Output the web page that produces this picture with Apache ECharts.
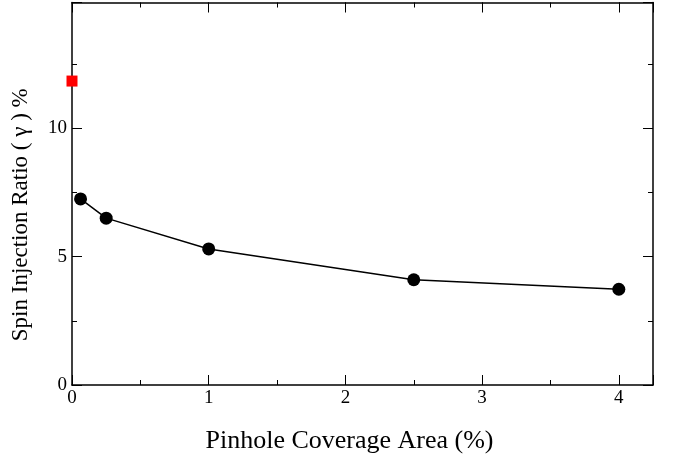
<!DOCTYPE html>
<html>
<head>
<meta charset="utf-8">
<script src="https://cdn.jsdelivr.net/npm/echarts@6/dist/echarts.min.js"></script>
<style>html,body{margin:0;padding:0;background:#fff;}#c{width:683px;height:460px;}</style>
</head>
<body>
<div id="c"></div>
<script>
const coverage = [0.0625, 0.25, 1, 2.5, 4];
const ratio = [7.25, 6.5, 5.3, 4.1, 3.73];
const refCoverage = [0];
const refRatio = [11.84];
const xTitle = 'Pinhole Coverage Area (%)';
const yTitle = 'Spin Injection Ratio ( \u03b3 ) %';

const font = 'Liberation Serif';
const grid = {left: 72, right: 30, top: 2.5, bottom: 75};
const lineStyle = {color: '#000', width: 1.5};
const intFmt = v => (Math.abs(v - Math.round(v)) < 1e-9 ? String(Math.round(v)) : '');

function xAx(gi, pos, interval, len, labels) {
  return {
    type: 'value', gridIndex: gi, position: pos, min: 0, max: 4.25, interval: interval,
    axisLine: {show: gi === 0, onZero: false, lineStyle: lineStyle},
    axisTick: {show: true, inside: true, length: len, lineStyle: {color: '#000', width: 1}},
    axisLabel: {show: labels, color: '#000', fontFamily: font, fontSize: 19, margin: 4, formatter: intFmt},
    splitLine: {show: false},
    name: labels ? xTitle : '', nameLocation: 'middle', nameGap: 43,
    nameTextStyle: {color: '#000', fontFamily: font, fontSize: 26, padding: [0, 26, 0, 0]}
  };
}
function yAx(gi, pos, interval, len, labels) {
  return {
    type: 'value', gridIndex: gi, position: pos, min: 0, max: 14.9, interval: interval,
    axisLine: {show: gi === 0, onZero: false, lineStyle: lineStyle},
    axisTick: {show: true, inside: true, length: len, lineStyle: {color: '#000', width: 1}},
    axisLabel: {show: labels, color: '#000', fontFamily: font, fontSize: 19, margin: 5, formatter: intFmt},
    splitLine: {show: false},
    name: labels ? yTitle : '', nameLocation: 'middle', nameGap: 40,
    nameTextStyle: {color: '#000', fontFamily: font, fontSize: 23, padding: [0, 42, 0, 0]}
  };
}

const chart = echarts.init(document.getElementById('c'), null, {renderer: 'canvas'});
chart.setOption({
  animation: false,
  backgroundColor: '#fff',
  grid: [Object.assign({}, grid), Object.assign({}, grid)],
  xAxis: [
    xAx(0, 'bottom', 1, 10, true),
    xAx(0, 'top', 1, 10, false),
    xAx(1, 'bottom', 0.5, 5, false),
    xAx(1, 'top', 0.5, 5, false)
  ],
  yAxis: [
    yAx(0, 'left', 5, 10, true),
    yAx(0, 'right', 5, 10, false),
    yAx(1, 'left', 2.5, 5, false),
    yAx(1, 'right', 2.5, 5, false)
  ],
  series: [
    {
      type: 'line', xAxisIndex: 0, yAxisIndex: 0,
      data: coverage.map((x, i) => [x, ratio[i]]),
      symbol: 'circle', symbolSize: 13,
      lineStyle: {color: '#000', width: 1.5},
      itemStyle: {color: '#000', opacity: 1}
    },
    {
      type: 'scatter', xAxisIndex: 0, yAxisIndex: 0,
      data: refCoverage.map((x, i) => [x, refRatio[i]]),
      symbol: 'rect', symbolSize: 11,
      itemStyle: {color: '#ff0000', opacity: 1}
    }
  ]
});
</script>
</body>
</html>
